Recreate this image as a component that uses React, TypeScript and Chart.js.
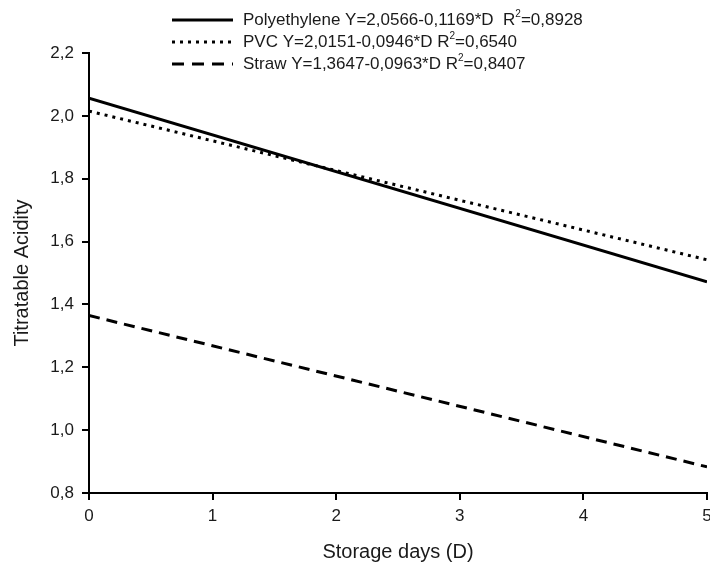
import React, { useEffect, useRef } from "react";
import Chart from "chart.js/auto";

const days = [0, 5];
const polyethylene = [2.0566, 1.4721];
const pvc = [2.0151, 1.5421];
const straw = [1.3647, 0.8832];
const legendNames = ["Polyethylene", "PVC", "Straw"];
const legendEquations = [
  "Y=2,0566-0,1169*D  R",
  "Y=2,0151-0,0946*D R",
  "Y=1,3647-0,0963*D R",
];
const legendR2 = ["=0,8928", "=0,6540", "=0,8407"];
const legendDashes: number[][] = [[], [3, 5], [12, 8]];
const yTicks = [0.8, 1.0, 1.2, 1.4, 1.6, 1.8, 2.0, 2.2];

const FONT = "'Liberation Sans', Arial, sans-serif";

const legendPlugin = {
  id: "customLegend",
  afterDraw(chart: any) {
    const ctx = chart.ctx;
    ctx.save();
    const rows = [20, 42, 64];
    rows.forEach((y, i) => {
      ctx.strokeStyle = "#000";
      ctx.lineWidth = 3;
      ctx.setLineDash(legendDashes[i]);
      ctx.beginPath();
      ctx.moveTo(172, y);
      ctx.lineTo(233, y);
      ctx.stroke();
      ctx.setLineDash([]);
      ctx.fillStyle = "#1a1a1a";
      ctx.font = `17px ${FONT}`;
      ctx.textBaseline = "middle";
      let x = 243;
      const first = legendNames[i] + " " + legendEquations[i];
      ctx.fillText(first, x, y);
      x += ctx.measureText(first).width;
      ctx.font = `10px ${FONT}`;
      ctx.fillText("2", x, y - 6);
      x += ctx.measureText("2").width;
      ctx.font = `17px ${FONT}`;
      ctx.fillText(legendR2[i], x, y);
    });
    ctx.restore();
  },
};

export default function App() {
  const ref = useRef<HTMLCanvasElement | null>(null);
  useEffect(() => {
    document.body.style.margin = "0";
    const mk = (label: string, vals: number[], dash: number[], w: number) => ({
      label,
      data: days.map((d, i) => ({ x: d, y: vals[i] })),
      borderColor: "#000",
      backgroundColor: "#000",
      borderWidth: w,
      borderDash: dash,
      pointRadius: 0,
      fill: false,
      tension: 0,
    });
    const chart = new Chart(ref.current!, {
      type: "line",
      data: {
        datasets: [
          mk("Polyethylene", polyethylene, [], 3),
          mk("PVC", pvc, [3, 5], 3),
          mk("Straw", straw, [11, 7], 3),
        ],
      },
      options: {
        animation: false,
        responsive: true,
        maintainAspectRatio: false,
        layout: { padding: { top: 53, right: 3, left: 0, bottom: 0 } },
        plugins: { legend: { display: false }, tooltip: { enabled: false } },
        scales: {
          x: {
            type: "linear",
            min: 0,
            max: 5,
            ticks: {
              stepSize: 1,
              color: "#1a1a1a",
              font: { family: FONT, size: 17 },
              padding: 6,
              maxRotation: 0,
            },
            grid: {
              display: true,
              drawOnChartArea: false,
              drawTicks: true,
              tickLength: 7,
              color: "#000",
              lineWidth: 2,
            },
            border: { display: true, color: "#000", width: 2 },
            title: {
              display: true,
              text: "Storage days (D)",
              color: "#1a1a1a",
              font: { family: FONT, size: 20 },
              padding: { top: 8, bottom: 0 },
            },
            afterFit(scale: any) {
              scale.height = 71;
              scale.paddingRight = 0;
              scale.paddingLeft = 0;
            },
          },
          y: {
            type: "linear",
            min: 0.8,
            max: 2.2,
            afterBuildTicks(scale: any) {
              scale.ticks = yTicks.map((v) => ({ value: v }));
            },
            ticks: {
              color: "#1a1a1a",
              font: { family: FONT, size: 17 },
              padding: 8,
              callback: (v: any) => Number(v).toFixed(1).replace(".", ","),
            },
            grid: {
              display: true,
              drawOnChartArea: false,
              drawTicks: true,
              tickLength: 7,
              color: "#000",
              lineWidth: 2,
            },
            border: { display: true, color: "#000", width: 2 },
            title: {
              display: true,
              text: "Titratable Acidity",
              color: "#1a1a1a",
              font: { family: FONT, size: 20 },
              padding: { top: 10, bottom: 4 },
            },
            afterFit(scale: any) {
              scale.width = 89;
            },
          },
        },
      },
      plugins: [legendPlugin],
    });
    return () => chart.destroy();
  }, []);
  return (
    <div style={{ width: 710, height: 564, position: "relative" }}>
      <canvas ref={ref} />
    </div>
  );
}
